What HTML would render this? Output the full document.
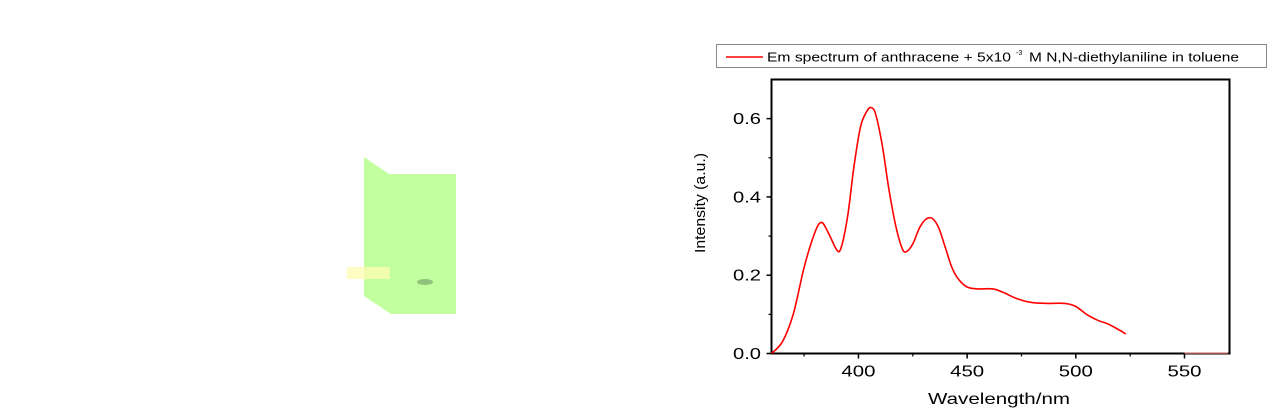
<!DOCTYPE html>
<html><head><meta charset="utf-8"><style>
html,body{margin:0;padding:0;background:#fff;width:1272px;height:418px;overflow:hidden}
svg{display:block;font-family:"Liberation Sans",Arial,sans-serif}
</style></head><body>
<svg id="chart" width="1272" height="418" viewBox="0 0 1272 418">
  <g>
    <polygon points="364,157 389,174 456,174 456,314 391,314 364,296" fill="#c2ff9f"/>
    <rect x="347" y="267" width="43" height="12" fill="#fffcb0" opacity="0.75"/>
    <ellipse cx="425" cy="282" rx="8" ry="3" fill="#8fc27a"/>
  </g>
  <g>
    <rect x="716.5" y="44.5" width="550" height="23" fill="#fff" stroke="#888" stroke-width="1"/>
    <line x1="726" y1="57" x2="763" y2="57" stroke="#ff0000" stroke-width="1.5"/>
    <text x="767" y="61.5" font-size="13" fill="#000" textLength="244" lengthAdjust="spacingAndGlyphs">Em spectrum of anthracene + 5x10</text>
    <text x="1016" y="55" font-size="7" fill="#000">-3</text>
    <text x="1029" y="61.5" font-size="13" fill="#000" textLength="210" lengthAdjust="spacingAndGlyphs">M N,N-diethylaniline in toluene</text>
  </g>
  <g id="axes"></g>
  <g id="series"></g>
  <text x="928" y="404" font-size="16" textLength="142" lengthAdjust="spacingAndGlyphs">Wavelength/nm</text>
  <text transform="translate(705,253) rotate(-90)" font-size="15" textLength="100" lengthAdjust="spacingAndGlyphs">Intensity (a.u.)</text>
</svg>
<script>
const wavelengths=[360,365,370,375,380,383,386,390,392,395,398,401,404,406,408,411,414,417,420,422,425,428,431,434,437,440,443,446,450,455,462,467,473,480,487,495,500,505,510,515,520,523];
const intensities=[0,0.03,0.1,0.22,0.31,0.335,0.31,0.265,0.27,0.35,0.48,0.58,0.62,0.628,0.61,0.53,0.42,0.33,0.27,0.26,0.28,0.32,0.343,0.345,0.32,0.27,0.22,0.19,0.17,0.165,0.165,0.155,0.14,0.13,0.128,0.128,0.12,0.1,0.085,0.075,0.06,0.05];
const tailWavelengths=[550,560,570];
const tailIntensities=[0.001,0.001,0.001];
const xTicks=[400,450,500,550];
const xMinor=[375,425,475,525];
const yTicks=[0.0,0.2,0.4,0.6];
const yMinor=[0.1,0.3,0.5];
const X0=360,X1=570.7,Y0=0,Y1=0.7;
const L=771.5,R=1229.5,T=79.5,B=353.5;
const sx=v=>L+(v-X0)/(X1-X0)*(R-L);
const sy=v=>B-(v-Y0)/(Y1-Y0)*(B-T);
const NS='http://www.w3.org/2000/svg';
const ax=document.getElementById('axes');
function mk(tag,attrs,parent){const e=document.createElementNS(NS,tag);for(const k in attrs)e.setAttribute(k,attrs[k]);parent.appendChild(e);return e;}
const frame=mk('rect',{x:L,y:T,width:R-L,height:B-T,fill:'none',stroke:'#000','stroke-width':2},ax);


xTicks.forEach(v=>{
  const t=mk('line',{x1:sx(v),x2:sx(v),y1:B,y2:B+5,stroke:'#000','stroke-width':1.5},ax);
  
  
  const l=mk('text',{x:sx(v)-17,y:B+23,'font-size':16,textLength:34,lengthAdjust:'spacingAndGlyphs'},ax);
  l.textContent=v;
  
  
});
xMinor.forEach(v=>{
  const t=mk('line',{x1:sx(v),x2:sx(v),y1:B,y2:B+3,stroke:'#000','stroke-width':1.2},ax);
  
  
});
yTicks.forEach(v=>{
  const t=mk('line',{x1:L-5,x2:L,y1:sy(v),y2:sy(v),stroke:'#000','stroke-width':1.5},ax);
  
  
  const l=mk('text',{x:733,y:sy(v)+5.5,'font-size':16,textLength:28,lengthAdjust:'spacingAndGlyphs'},ax);
  l.textContent=v.toFixed(1);
  
  
});
yMinor.forEach(v=>{
  const t=mk('line',{x1:L-3,x2:L,y1:sy(v),y2:sy(v),stroke:'#000','stroke-width':1.2},ax);
  
  
});
const se=document.getElementById('series');
function smooth(xs,ys){
  const P=xs.map((x,i)=>[sx(x),sy(ys[i])]);
  let d='M'+P[0][0].toFixed(1)+','+P[0][1].toFixed(1);
  for(let i=0;i<P.length-1;i++){
    const p0=P[i-1]||P[i],p1=P[i],p2=P[i+1],p3=P[i+2]||P[i+1];
    const c1=[p1[0]+(p2[0]-p0[0])/6,p1[1]+(p2[1]-p0[1])/6];
    const c2=[p2[0]-(p3[0]-p1[0])/6,p2[1]-(p3[1]-p1[1])/6];
    d+=' C'+c1.map(v=>v.toFixed(1)).join(',')+' '+c2.map(v=>v.toFixed(1)).join(',')+' '+p2.map(v=>v.toFixed(1)).join(',');
  }
  return d;
}
const p=mk('path',{d:smooth(wavelengths,intensities),fill:'none',stroke:'#ff0000','stroke-width':1.6,'stroke-linejoin':'round'},se);


const p2=mk('path',{d:smooth(tailWavelengths,tailIntensities),fill:'none',stroke:'#ff8080','stroke-width':1},se);


</script>
</body></html>
